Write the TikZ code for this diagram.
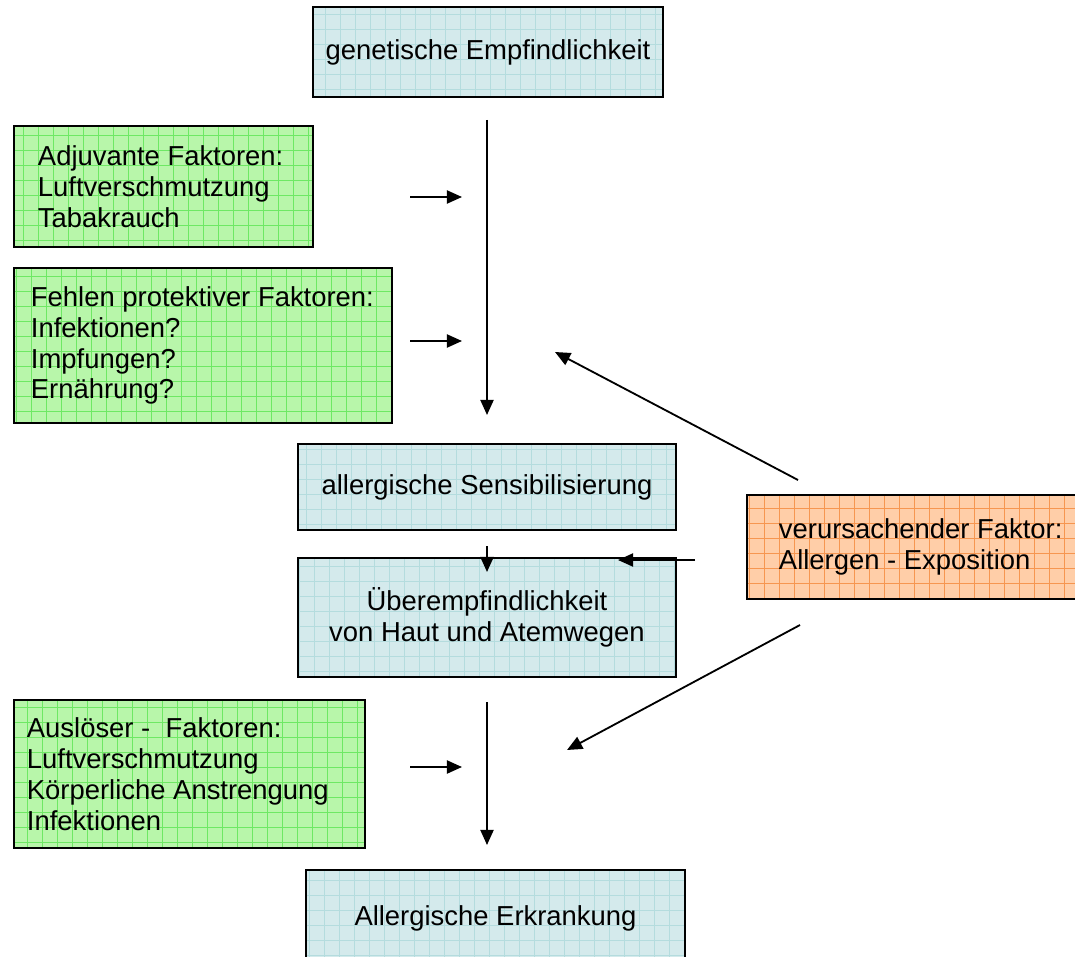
\documentclass[tikz,border=0pt]{standalone}
\usepackage{fontspec}
\setmainfont{Liberation Sans}
\usepackage{tikz}
\usetikzlibrary{arrows.meta,calc}

\definecolor{blueFill}{RGB}{212,234,236}
\definecolor{blueGrid}{RGB}{180,220,222}
\definecolor{greenFill}{RGB}{184,246,170}
\definecolor{greenGrid}{RGB}{110,232,100}
\definecolor{orangeFill}{RGB}{255,206,168}
\definecolor{orangeGrid}{RGB}{246,150,80}

\begin{document}
\begin{tikzpicture}[
    x=0.025cm, y=-0.025cm,
    box/.style={draw=black, line width=1.5pt, inner ysep=0pt,
                font=\fontsize{19.5pt}{22pt}\selectfont},
    cause/.style={box, fill=blueFill, align=center,
                  path picture={\draw[blueGrid, line width=0.5pt]
                    (path picture bounding box.south west) grid[step=0.375cm]
                    (path picture bounding box.north east);}},
    factor/.style={box, fill=greenFill, align=flush left,
                   path picture={\draw[greenGrid, line width=0.5pt]
                     (path picture bounding box.south west) grid[step=0.375cm]
                     (path picture bounding box.north east);}},
    source/.style={box, fill=orangeFill, align=flush left,
                   path picture={\draw[orangeGrid, line width=0.5pt]
                     (path picture bounding box.south west) grid[step=0.375cm]
                     (path picture bounding box.north east);}},
    arr/.style={-{Triangle[length=0.38cm, width=0.33cm]}, line width=1.3pt}]
  \useasboundingbox (0,0) rectangle (1075,957);
  % main column
  \node[cause, minimum width=8.75cm, minimum height=2.25cm] (gen) at (488,52)
    {genetische Empfindlichkeit};
  \node[cause, minimum width=9.45cm, minimum height=2.15cm] (sens) at (487,487)
    {allergische Sensibilisierung};
  \node[cause, minimum width=9.45cm, minimum height=2.975cm] (ueber) at (487,617.5)
    {Überempfindlichkeit\\von Haut und Atemwegen};
  \node[cause, minimum width=9.475cm, minimum height=2.4cm] (erkr) at (495.5,918)
    {Allergische Erkrankung};
  % factors on the left
  \node[factor, text width=6.275cm, inner xsep=0.6cm, minimum height=3.025cm] (adj)
    at (163.5,186.5) {Adjuvante Faktoren:\\Luftverschmutzung\\Tabakrauch};
  \node[factor, text width=8.6cm, inner xsep=0.425cm, minimum height=3.875cm] (fehl)
    at (203,345.5) {Fehlen protektiver Faktoren:\\Infektionen?\\Impfungen?\\Ernährung?};
  \node[factor, text width=8.125cm, inner xsep=0.325cm, minimum height=3.7cm] (ausl)
    at (189.5,774) {Auslöser -\ \ Faktoren:\\Luftverschmutzung\\Körperliche Anstrengung\\Infektionen};
  % cause on the right
  \node[source, text width=7.5cm, inner xsep=0.8cm, minimum height=2.6cm] (expo)
    at (929,547) {verursachender Faktor:\\Allergen - Exposition};
  % free ends of the arrows
  \coordinate (genEnd) at (487,120);
  \coordinate (sensTop) at (487,415);
  \coordinate (adjOut) at (410,197);
  \coordinate (adjIn) at (462,197);
  \coordinate (fehlOut) at (410,341);
  \coordinate (fehlIn) at (462,341);
  \coordinate (expoUp) at (798,480);
  \coordinate (sensIn) at (555,352);
  \coordinate (sensEnd) at (487,546);
  \coordinate (ueberTop) at (487,572);
  \coordinate (expoLeft) at (695,560);
  \coordinate (ueberIn) at (618,560);
  \coordinate (ueberEnd) at (487,702);
  \coordinate (erkrTop) at (487,845);
  \coordinate (auslOut) at (410,767);
  \coordinate (auslIn) at (462,767);
  \coordinate (expoDown) at (800,625);
  \coordinate (erkrIn) at (567,750);
  \draw[arr] (genEnd) -- (sensTop);
  \draw[arr] (adjOut) -- (adjIn);
  \draw[arr] (fehlOut) -- (fehlIn);
  \draw[arr] (expoUp) -- (sensIn);
  \draw[arr] (sensEnd) -- (ueberTop);
  \draw[arr] (expoLeft) -- (ueberIn);
  \draw[arr] (expoDown) -- (erkrIn);
  \draw[arr] (auslOut) -- (auslIn);
  \draw[arr] (ueberEnd) -- (erkrTop);
\end{tikzpicture}
\end{document}
